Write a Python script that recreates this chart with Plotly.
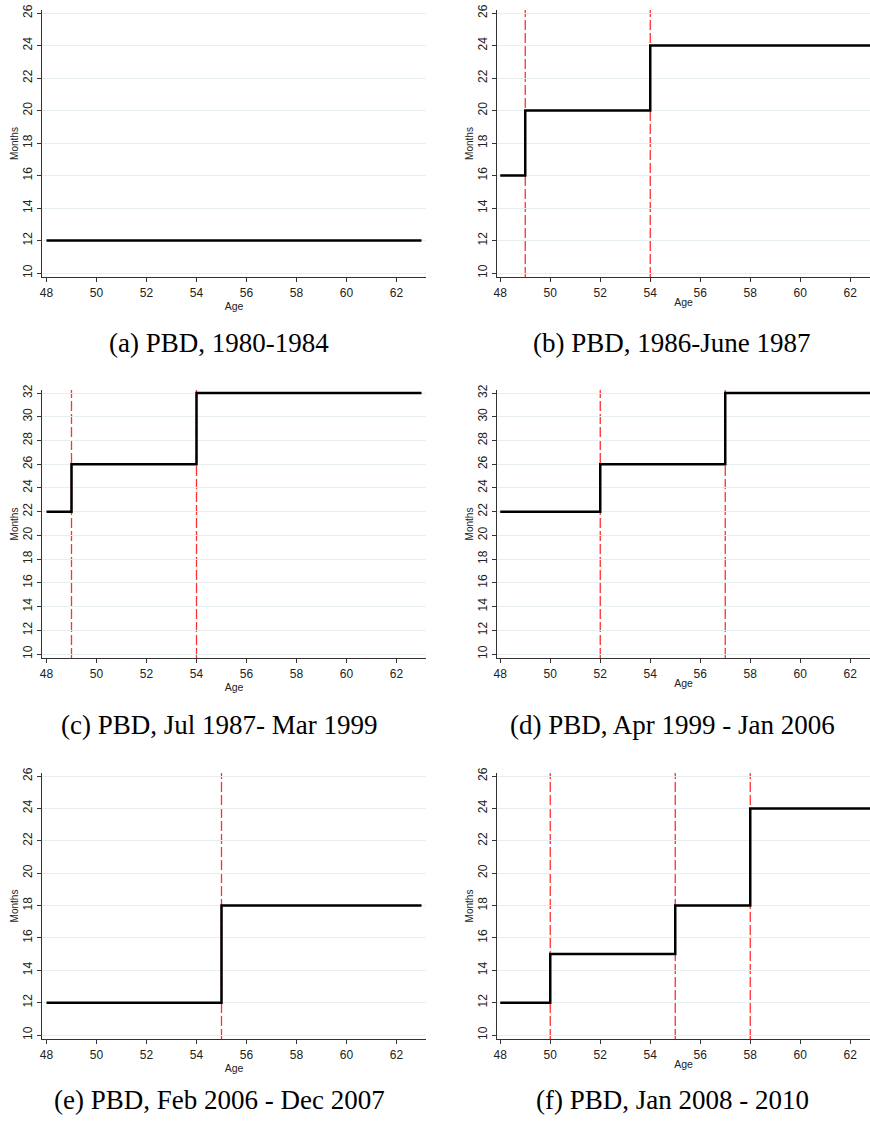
import plotly.graph_objects as go

# ---- data ----
age_start = 48
age_end = 63
captions = ["(a) PBD, 1980-1984", "(b) PBD, 1986-June 1987",
            "(c) PBD, Jul 1987- Mar 1999", "(d) PBD, Apr 1999 - Jan 2006",
            "(e) PBD, Feb 2006 - Dec 2007", "(f) PBD, Jan 2008 - 2010"]
breaks_a = []
levels_a = [12]
breaks_b = [49, 54]
levels_b = [16, 20, 24]
breaks_c = [49, 54]
levels_c = [22, 26, 32]
breaks_d = [52, 57]
levels_d = [22, 26, 32]
breaks_e = [55]
levels_e = [12, 18]
breaks_f = [50, 55, 58]
levels_f = [12, 15, 18, 24]
y_ticks_short = [10, 12, 14, 16, 18, 20, 22, 24, 26]
y_ticks_long = [10, 12, 14, 16, 18, 20, 22, 24, 26, 28, 30, 32]
x_ticks = [48, 50, 52, 54, 56, 58, 60, 62]

panels = [
    (breaks_a, levels_a, y_ticks_short),
    (breaks_b, levels_b, y_ticks_short),
    (breaks_c, levels_c, y_ticks_long),
    (breaks_d, levels_d, y_ticks_long),
    (breaks_e, levels_e, y_ticks_short),
    (breaks_f, levels_f, y_ticks_short),
]

W, H = 870, 1122
# pixel layout (left, right) columns and (top, bottom) rows
cols = [(42, 426, [47.82, 63.18]), (497, 870, [47.87, 62.79])]
rows = [(10, 277), (390, 658), (773, 1039)]
cap_y = [343, 725, 1100]
cap_x = [219, 672]

fig = go.Figure()
axis_color = "#333333"
grid_color = "#e6eef0"
tick_font = dict(family="Liberation Sans, Arial, sans-serif", size=12, color="#222222")

for i, (brks, lvls, yt) in enumerate(panels):
    r, c = divmod(i, 2)
    n = "" if i == 0 else str(i + 1)
    xa, ya = "x" + n, "y" + n
    xs = [age_start] + brks + [age_end]
    ys = lvls + [lvls[-1]]
    for b in brks:
        fig.add_shape(type="line", x0=b, x1=b, y0=0, y1=1,
                      xref=xa, yref=ya + " domain",
                      line=dict(color="#ff3030", width=1.3, dash="10px,3px"),
                      layer="below")
    fig.add_trace(go.Scatter(x=xs, y=ys, mode="lines", line_shape="hv",
                             line=dict(color="black", width=2.5),
                             xaxis=xa, yaxis=ya, showlegend=False,
                             hoverinfo="skip"))
    cl, cr, xr = cols[c]
    rt, rb = rows[r]
    ymin, ymax = yt[0], yt[-1]
    pxu = (rb - rt - 7) / (ymax - ymin)
    yr = [ymin - 4 / pxu, ymax + 3 / pxu]
    fig.layout["xaxis" + n] = dict(
        domain=[cl / W, cr / W], range=xr, anchor=ya, automargin=False,
        tickvals=x_ticks, ticks="outside", ticklen=4, tickcolor=axis_color,
        showline=True, linecolor=axis_color, linewidth=1.2, showgrid=False,
        zeroline=False, tickfont=tick_font,
        title=dict(text="Age", font=dict(family="Liberation Sans, Arial, sans-serif", size=10.5, color="#222222"), standoff=0),
    )
    fig.layout["yaxis" + n] = dict(
        domain=[1 - rb / H, 1 - rt / H], range=yr, anchor=xa, automargin=False,
        tickvals=yt, ticks="outside", ticklen=4, tickcolor=axis_color,
        tickangle=-90, showline=True, linecolor=axis_color, linewidth=1.2,
        showgrid=True, gridcolor=grid_color, gridwidth=1, zeroline=False,
        tickfont=tick_font,
        title=dict(text="Months", font=dict(family="Liberation Sans, Arial, sans-serif", size=10, color="#222222"), standoff=0),
    )
    fig.add_annotation(text=captions[i], xref="paper", yref="paper",
                       x=cap_x[c] / W, y=1 - cap_y[r] / H,
                       xanchor="center", yanchor="middle", showarrow=False,
                       font=dict(family="Liberation Serif, DejaVu Serif, serif", size=27, color="black"))

fig.update_layout(width=W, height=H, margin=dict(l=0, r=0, t=0, b=0),
                  paper_bgcolor="white", plot_bgcolor="white", hovermode=False)
fig.write_html("out.html", config={"displayModeBar": False, "staticPlot": True},
               post_script="document.body.style.margin='0';document.body.style.overflow='hidden';")
